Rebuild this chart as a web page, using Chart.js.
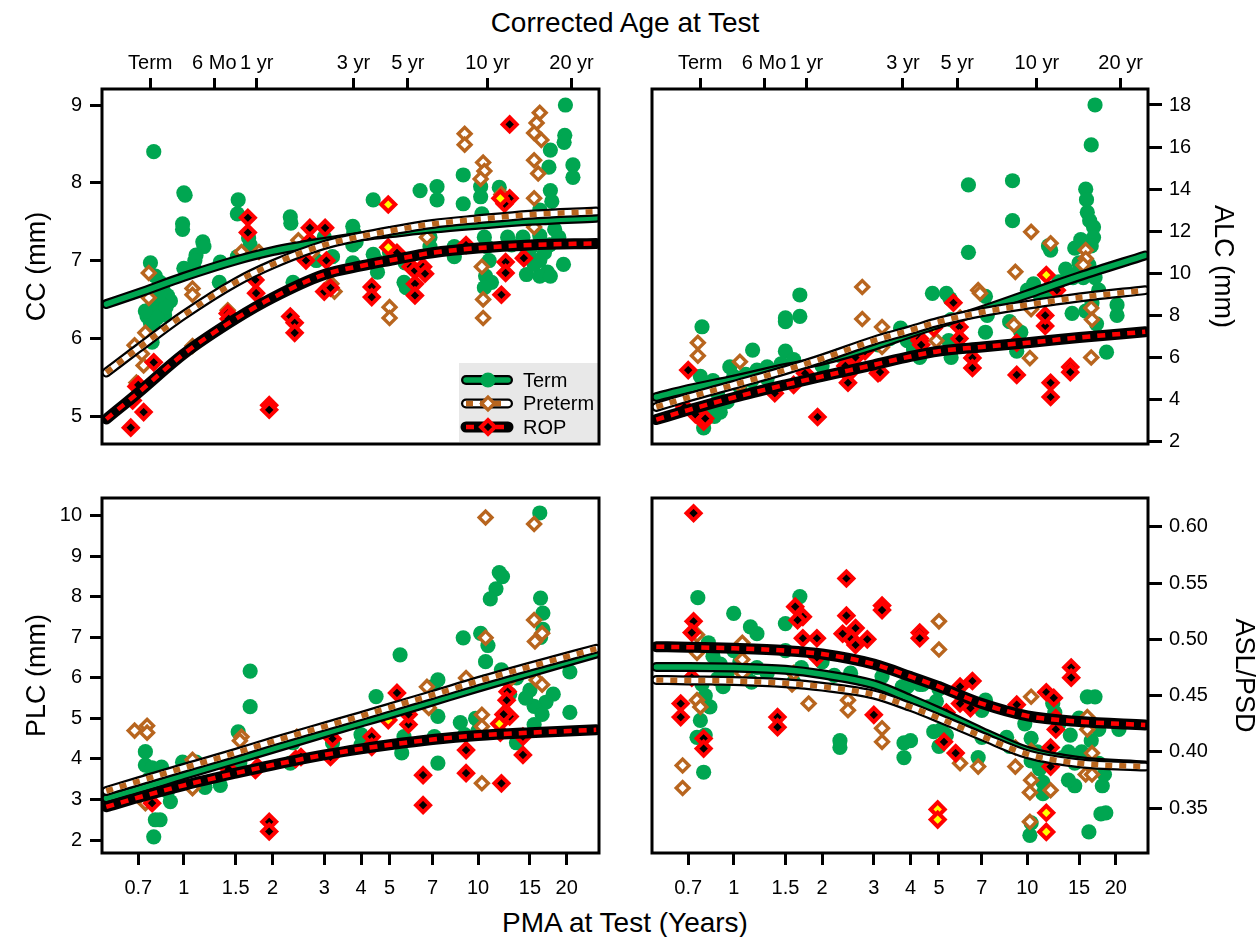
<!DOCTYPE html>
<html>
<head>
<meta charset="utf-8">
<title>Anterior segment growth by PMA</title>
<script src="https://cdn.jsdelivr.net/npm/chart.js@4.4.1/dist/chart.umd.min.js"></script>
<style>
  html, body { margin: 0; padding: 0; background: #fff; }
  body { position: relative; width: 1260px; height: 937px; overflow: hidden;
         font-family: "Liberation Sans", Arial, Helvetica, sans-serif; color: #000; }
  canvas { position: absolute; }
  .big { position: absolute; text-align: center; white-space: nowrap; }
</style>
</head>
<body>
<div class="big" style="left:0; width:1250px; top:9px; font-size:28px; line-height:28px;">Corrected Age at Test</div>
<div class="big" style="left:0; width:1250px; top:909px; font-size:28px; line-height:28px;">PMA at Test (Years)</div>
<canvas id="cc" width="630" height="470" style="left:0; top:0;"></canvas>
<canvas id="alc" width="630" height="470" style="left:630px; top:0;"></canvas>
<canvas id="plc" width="630" height="467" style="left:0; top:470px;"></canvas>
<canvas id="asl" width="630" height="467" style="left:630px; top:470px;"></canvas>
<script>
// ---- axes ----
const pmaTicks = [0.7, 1, 1.5, 2, 3, 4, 5, 7, 10, 15, 20];
const pmaLabels = ["0.7", "1", "1.5", "2", "3", "4", "5", "7", "10", "15", "20"];
// corrected age ticks, placed at PMA = age + 40 weeks
const ageTicks = [0.769, 1.269, 1.769, 3.769, 5.769, 10.769, 20.769];
const ageLabels = ["Term", "6 Mo", "1 yr", "3 yr", "5 yr", "10 yr", "20 yr"];
const X_MIN = 0.527;
const X_MAX = 25.75;

const ccTicks = [5, 6, 7, 8, 9];
const alcTicks = [2, 4, 6, 8, 10, 12, 14, 16, 18];
const plcTicks = [2, 3, 4, 5, 6, 7, 8, 9, 10];
const aslTicks = [0.35, 0.40, 0.45, 0.50, 0.55, 0.60];

// ---- fitted curves, read at these PMA values ----
const curveX = [0.545, 0.7, 1, 1.5, 2, 3, 4, 5, 7, 10, 15, 25.2];

const ccTermFit    = [6.44, 6.58, 6.79, 7.00, 7.12, 7.24, 7.31, 7.35, 7.41, 7.46, 7.51, 7.55];
const ccPretermFit = [5.56, 5.87, 6.30, 6.72, 6.95, 7.20, 7.31, 7.38, 7.47, 7.53, 7.59, 7.63];
const ccRopFit     = [4.96, 5.30, 5.80, 6.25, 6.52, 6.82, 6.93, 7.00, 7.10, 7.16, 7.20, 7.22];

const alcTermFit    = [4.12, 4.50, 4.95, 5.50, 5.85, 6.55, 7.15, 7.60, 8.25, 9.00, 9.85, 10.85];
const alcPretermFit = [3.65, 4.10, 4.70, 5.40, 5.95, 6.80, 7.30, 7.70, 8.15, 8.50, 8.85, 9.20];
const alcRopFit     = [3.05, 3.50, 4.10, 4.70, 5.10, 5.65, 6.05, 6.30, 6.50, 6.70, 6.95, 7.22];

const plcTermFit    = [3.03, 3.25, 3.60, 3.98, 4.25, 4.63, 4.90, 5.10, 5.42, 5.76, 6.13, 6.60];
const plcPretermFit = [3.21, 3.45, 3.78, 4.15, 4.43, 4.80, 5.06, 5.27, 5.58, 5.92, 6.28, 6.72];
const plcRopFit     = [2.82, 3.05, 3.35, 3.65, 3.85, 4.10, 4.25, 4.35, 4.48, 4.58, 4.65, 4.72];

const aslTermFit    = [0.4755, 0.4755, 0.475, 0.473, 0.469, 0.460, 0.447, 0.436, 0.418, 0.401, 0.392, 0.388];
const aslPretermFit = [0.464, 0.4635, 0.463, 0.461, 0.458, 0.451, 0.440, 0.430, 0.414, 0.398, 0.390, 0.387];
const aslRopFit     = [0.4935, 0.493, 0.492, 0.490, 0.487, 0.478, 0.467, 0.458, 0.443, 0.432, 0.427, 0.424];

// ---- measurements [PMA years, value] ----
const ccTerm = [
  [0.79, 8.40], [0.77, 6.97], [0.80, 6.80], [0.83, 6.72], [0.85, 6.62], [0.88, 6.55], [0.90, 6.48],
  [0.83, 6.45], [0.78, 6.40], [0.80, 6.33], [0.86, 6.30], [0.75, 6.28], [0.77, 6.20], [0.79, 6.12],
  [0.76, 6.05], [0.78, 5.95], [0.87, 6.40], [0.81, 6.26], [0.82, 6.55], [0.74, 6.35],
  [1.00, 7.87], [1.01, 7.84], [0.99, 7.47], [0.99, 7.40], [1.16, 7.24], [1.17, 7.18], [1.10, 7.07],
  [1.09, 7.00], [1.33, 6.98], [1.32, 6.72], [1.00, 6.90], [1.08, 6.92],
  [1.53, 7.78], [1.52, 7.60], [1.66, 7.29], [1.68, 7.20], [1.71, 7.12], [1.52, 7.05],
  [2.30, 7.56], [2.31, 7.48], [2.35, 6.72], [3.00, 7.30], [3.20, 7.05], [2.82, 7.00],
  [3.75, 7.44], [3.78, 7.36], [3.75, 7.20], [3.75, 6.97], [4.40, 7.78], [4.40, 7.08],
  [3.85, 7.24], [4.50, 7.00], [4.55, 6.85],
  [5.00, 7.10], [5.65, 6.97], [5.60, 6.72], [5.70, 6.65], [6.35, 7.90], [6.86, 7.30], [6.86, 7.18],
  [7.25, 7.95], [7.25, 7.78],
  [8.30, 7.18], [8.30, 7.05], [8.90, 8.10], [8.90, 7.73], [10.2, 7.95], [10.2, 7.82], [10.3, 7.60],
  [10.3, 7.55], [10.5, 7.30], [10.7, 7.18], [10.9, 7.00], [10.6, 6.80], [11.1, 6.72], [10.5, 6.65],
  [11.8, 7.94], [12.6, 7.30], [13.0, 7.20],
  [19.8, 9.00], [19.7, 8.61], [19.6, 8.52], [17.6, 8.42], [21.0, 8.23], [21.0, 8.07], [17.4, 8.20],
  [17.6, 7.90], [17.8, 7.76], [16.2, 7.65], [17.0, 7.55], [18.2, 7.40], [16.2, 7.32], [17.5, 7.20],
  [16.2, 7.00], [17.2, 6.85], [14.6, 6.82], [16.2, 6.80], [17.6, 6.80], [14.2, 7.30], [15.0, 7.15],
  [15.8, 7.00], [16.8, 7.10], [15.5, 6.95], [14.5, 7.05], [18.8, 7.30], [19.5, 6.95]
];
const ccPreterm = [
  [0.76, 6.84], [0.76, 6.52], [0.74, 6.07], [0.68, 5.91], [0.72, 5.80], [0.73, 5.65], [0.69, 5.43],
  [1.07, 6.64], [1.07, 6.56], [1.07, 5.90], [1.57, 7.11], [1.80, 7.11], [2.45, 7.26], [1.41, 6.36],
  [2.72, 7.10], [3.17, 6.70], [3.25, 6.60], [9.0, 8.63], [9.0, 8.49], [10.4, 8.26], [10.5, 8.15],
  [10.2, 8.05], [16.2, 8.90], [15.8, 8.77], [15.5, 8.64], [16.4, 8.55], [15.5, 8.29], [16.0, 8.12],
  [15.5, 7.80], [15.5, 7.43], [6.7, 7.30], [5.0, 6.40], [5.0, 6.26], [10.3, 6.92], [10.4, 6.50],
  [10.4, 6.26], [12.0, 7.85]
];
const ccRop = [
  [0.66, 4.85], [0.73, 5.05], [0.67, 5.20], [0.69, 5.38], [0.79, 5.69], [0.70, 5.40],
  [1.41, 6.32], [1.42, 6.25], [1.65, 7.55], [1.65, 7.36], [1.75, 6.75], [1.76, 6.58],
  [1.95, 5.14], [1.95, 5.08], [2.30, 6.28], [2.38, 6.20], [2.38, 6.07], [2.68, 7.42], [2.68, 7.25],
  [2.60, 7.00], [3.02, 7.42], [3.05, 7.00], [3.00, 6.60], [3.15, 6.65], [4.35, 6.66], [4.35, 6.53],
  [12.8, 8.75], [12.8, 7.80], [12.3, 7.73], [5.3, 7.10], [5.9, 6.92], [6.1, 6.87], [6.1, 6.70],
  [6.5, 6.92], [6.6, 6.83], [6.1, 6.55], [9.1, 7.20], [12.4, 6.98], [12.4, 6.84], [14.3, 7.03],
  [12.0, 6.56]
];
const ccRopYellow = [[4.95, 7.72], [4.95, 7.17], [11.9, 7.80]];

const alcTerm = [
  [0.78, 7.46], [0.77, 5.10], [0.79, 2.65], [0.90, 3.40], [0.97, 5.55], [1.16, 6.35], [1.30, 5.55],
  [1.50, 7.88], [1.50, 7.70], [1.68, 7.95], [1.68, 8.97], [1.50, 6.30], [3.90, 6.80], [4.75, 9.05],
  [5.30, 9.05], [0.72, 4.30], [0.80, 4.60], [0.85, 4.90], [0.88, 4.30], [0.92, 4.70], [0.95, 3.90],
  [1.00, 5.10], [1.05, 4.60], [1.10, 5.20], [1.15, 4.90], [1.20, 5.40], [0.82, 3.60], [0.86, 3.20],
  [1.30, 5.00], [1.45, 5.70], [1.60, 5.90], [2.00, 5.60], [2.30, 6.10], [2.70, 6.30], [3.10, 6.60],
  [3.40, 6.90], [3.70, 7.40], [4.10, 6.40],
  [17.0, 18.0], [16.5, 16.1], [6.3, 14.2], [8.9, 14.4], [8.9, 12.5], [6.3, 11.0], [15.8, 14.0],
  [15.9, 13.5], [16.0, 12.9], [16.3, 12.5], [16.8, 12.2], [16.8, 11.7], [16.5, 11.3], [14.5, 11.2],
  [15.0, 10.5], [14.3, 9.8], [15.5, 9.8], [17.0, 9.8], [17.5, 9.2], [16.6, 8.6], [15.8, 8.2],
  [17.2, 7.6], [20.2, 8.5], [20.2, 8.0], [18.6, 6.25], [10.5, 9.5], [10.0, 9.2], [11.0, 9.0],
  [11.6, 8.8], [12.0, 11.1], [11.8, 11.3], [14.2, 8.1], [7.2, 8.9], [7.3, 8.0], [7.2, 7.2],
  [5.45, 8.8], [5.5, 7.8], [5.4, 6.8], [5.5, 6.0], [8.7, 7.7], [9.5, 7.2], [9.2, 6.3], [4.3, 6.0],
  [4.1, 6.4], [13.5, 10.2], [12.8, 9.6], [14.8, 10.0], [16.2, 10.4], [15.2, 11.6]
];
const alcPreterm = [
  [0.755, 6.70], [0.755, 6.08], [1.05, 5.80], [2.74, 9.35], [2.74, 7.83], [3.2, 7.45], [3.2, 6.50],
  [1.05, 4.70], [10.3, 11.97], [12.0, 11.43], [9.1, 10.07], [6.8, 9.2], [6.9, 9.05], [15.8, 11.1],
  [15.8, 10.7], [15.5, 10.4], [16.5, 8.35], [16.6, 7.8], [16.5, 6.0], [9.0, 7.55], [10.2, 5.97],
  [10.3, 8.3], [4.9, 6.8], [5.9, 7.9]
];
const alcRop = [
  [0.70, 5.40], [0.79, 2.95], [1.93, 3.17], [1.38, 4.30], [1.60, 4.70], [1.75, 5.25], [2.45, 5.20],
  [2.45, 4.80], [2.40, 5.60], [2.60, 6.00], [2.80, 6.30], [3.10, 5.25], [3.15, 5.30], [4.3, 6.8],
  [5.6, 8.6], [5.87, 7.45], [5.87, 6.9], [4.3, 6.9], [4.35, 6.6], [6.5, 5.98], [6.5, 5.5],
  [9.2, 5.17], [12.0, 4.8], [12.0, 4.12], [14.0, 5.55], [14.0, 5.3], [12.6, 9.2], [11.5, 7.5],
  [11.5, 8.0], [9.2, 6.7], [0.68, 3.65], [0.74, 3.30], [0.80, 3.10]
];
const alcRopYellow = [[4.8, 7.4], [11.6, 9.92]];

const plcTerm = [
  [1.68, 6.17], [1.68, 5.29], [1.53, 4.67], [0.74, 4.18], [0.74, 3.85], [0.78, 3.78], [0.84, 3.80],
  [0.84, 3.55], [0.90, 2.95], [0.80, 2.50], [0.83, 2.50], [0.79, 2.08], [0.99, 3.92], [1.10, 3.92],
  [1.18, 3.30], [1.33, 3.35], [1.55, 3.90], [2.30, 3.90], [2.35, 4.40], [4.50, 5.54], [4.0, 4.60],
  [4.0, 4.35], [3.2, 4.40], [0.76, 3.50], [0.88, 3.20], [0.95, 3.60],
  [16.2, 10.07], [11.8, 8.60], [12.1, 8.50], [11.5, 8.20], [11.0, 7.95], [16.3, 7.97], [16.6, 7.60],
  [16.6, 7.20], [16.3, 7.00], [8.9, 6.99], [5.43, 6.57], [10.2, 7.10], [10.8, 6.80], [10.6, 6.40],
  [10.5, 5.90], [12.0, 6.20], [20.5, 6.15], [20.5, 5.15], [18.0, 5.60], [17.0, 5.40], [15.5, 5.30],
  [15.0, 5.70], [14.5, 5.50], [16.5, 5.10], [7.3, 5.95], [7.0, 5.78], [7.3, 5.05], [7.3, 3.90],
  [7.1, 4.55], [5.5, 4.15], [5.6, 4.55], [8.7, 4.90], [9.0, 4.60], [9.8, 5.00], [10.0, 4.70],
  [13.5, 4.40], [15.5, 4.85], [12.8, 5.60], [13.5, 6.00]
];
const plcPreterm = [
  [0.68, 4.70], [0.75, 4.82], [0.75, 4.65], [0.74, 2.91], [1.07, 3.98], [1.07, 3.28], [1.57, 4.55],
  [1.55, 4.45], [2.42, 4.55], [10.6, 9.96], [15.5, 9.80], [10.6, 6.99], [15.5, 7.43], [16.5, 7.10],
  [15.6, 6.90], [15.8, 5.95], [16.5, 5.83], [9.1, 6.00], [12.6, 5.90], [6.7, 5.78], [6.8, 5.26],
  [10.3, 5.09], [10.3, 4.80], [10.3, 3.40]
];
const plcRop = [
  [0.78, 2.91], [1.95, 2.45], [1.95, 2.21], [1.75, 3.73], [1.78, 3.80], [1.42, 3.75], [2.4, 4.00],
  [2.5, 4.05], [3.15, 4.05], [3.2, 4.50], [4.35, 4.35], [5.3, 5.63], [5.8, 4.85], [5.8, 5.10],
  [4.35, 4.55], [4.35, 4.30], [6.5, 3.60], [6.5, 2.86], [9.1, 4.22], [9.1, 3.65], [12.0, 3.40],
  [12.6, 5.66], [12.5, 5.45], [12.8, 5.05], [12.2, 5.10], [11.9, 4.65], [14.2, 4.55], [14.2, 4.10]
];
const plcRopYellow = [[4.95, 4.96], [11.8, 4.87]];

const aslTerm = [
  [0.755, 0.537], [1.0, 0.523], [1.14, 0.511], [1.2, 0.505], [1.68, 0.538], [1.5, 0.514], [1.5, 0.490],
  [2.3, 0.410], [2.3, 0.404], [3.8, 0.408], [3.8, 0.395], [0.79, 0.382], [0.75, 0.413], [0.80, 0.415],
  [0.77, 0.428], [0.82, 0.497], [0.85, 0.485], [0.9, 0.478], [0.95, 0.470], [1.0, 0.490], [1.05, 0.480],
  [1.1, 0.470], [1.15, 0.462], [1.2, 0.475], [0.88, 0.465], [0.92, 0.458], [0.78, 0.460], [0.8, 0.450],
  [0.83, 0.440], [1.3, 0.470], [1.6, 0.462], [1.7, 0.475], [2.0, 0.480], [2.2, 0.468], [2.5, 0.470],
  [3.2, 0.467], [3.75, 0.458], [4.4, 0.460], [4.6, 0.440], [4.8, 0.418], [5.0, 0.405],
  [16.2, 0.329], [10.2, 0.326], [10.3, 0.337], [18.5, 0.346], [17.8, 0.345], [16.0, 0.449],
  [17.0, 0.449], [20.5, 0.420], [18.0, 0.370], [18.3, 0.380], [17.5, 0.390], [14.5, 0.370],
  [13.8, 0.375], [14.5, 0.390], [13.2, 0.395], [13.8, 0.400], [15.3, 0.400], [16.5, 0.410],
  [12.2, 0.443], [12.4, 0.435], [12.8, 0.425], [9.8, 0.425], [10.3, 0.412], [10.8, 0.400],
  [10.3, 0.392], [11.0, 0.385], [11.3, 0.373], [11.3, 0.363], [7.2, 0.446], [7.0, 0.437],
  [7.0, 0.413], [6.8, 0.395], [8.5, 0.413], [8.7, 0.405], [5.1, 0.420], [5.3, 0.415], [4.0, 0.410],
  [3.9, 0.458], [4.3, 0.460], [4.9, 0.445], [5.0, 0.456], [15.0, 0.430], [16.0, 0.425],
  [17.5, 0.420], [14.0, 0.415]
];
const aslPreterm = [
  [0.67, 0.388], [0.67, 0.368], [0.75, 0.504], [0.75, 0.488], [0.75, 0.446], [0.77, 0.440],
  [1.07, 0.497], [1.07, 0.482], [1.07, 0.470], [1.6, 0.470], [1.58, 0.460], [1.8, 0.443],
  [2.45, 0.446], [2.45, 0.437], [3.2, 0.421], [3.2, 0.409], [5.0, 0.516], [5.0, 0.491],
  [5.9, 0.390], [6.8, 0.387], [9.1, 0.404], [9.1, 0.387], [10.3, 0.449], [10.3, 0.401],
  [10.3, 0.375], [10.2, 0.364], [10.2, 0.338], [12.0, 0.366], [16.0, 0.431], [16.0, 0.420],
  [16.6, 0.399], [15.8, 0.380], [16.6, 0.380]
];
const aslRop = [
  [0.73, 0.612], [0.73, 0.516], [0.72, 0.506], [0.72, 0.466], [0.66, 0.443], [0.66, 0.431],
  [0.79, 0.412], [0.79, 0.403], [1.41, 0.431], [1.41, 0.422], [1.62, 0.529], [1.72, 0.520],
  [1.65, 0.517], [1.72, 0.501], [1.92, 0.501], [1.92, 0.484], [2.42, 0.554], [2.42, 0.521],
  [2.6, 0.510], [2.85, 0.500], [2.5, 0.501], [2.35, 0.505], [2.6, 0.495], [3.2, 0.530],
  [3.2, 0.526], [3.0, 0.433], [4.3, 0.506], [4.3, 0.501], [5.9, 0.458], [6.5, 0.463],
  [5.9, 0.443], [6.4, 0.439], [5.3, 0.435], [5.2, 0.409], [5.7, 0.399], [9.2, 0.442],
  [11.6, 0.453], [12.3, 0.448], [12.5, 0.430], [12.5, 0.420], [12.0, 0.404], [12.0, 0.387],
  [14.1, 0.475], [14.1, 0.466]
];
const aslRopYellow = [[4.95, 0.349], [4.95, 0.340], [11.6, 0.346], [11.6, 0.329]];

// ---- styles ----
const GREEN = "#00a651";
const BROWN = "#b8651e";
const RED = "#ff0000";
const YELLOW = "#ffff00";

const fitLayers = {
  term: [{ color: "#000", width: 10 }, { color: GREEN, width: 5.5 }],
  preterm: [{ color: "#000", width: 10 }, { color: "#fff", width: 5.5 }, { color: BROWN, width: 5.5, dash: [7, 7] }],
  rop: [{ color: "#000", width: 11 }, { color: RED, width: 4.5, dash: [8, 7] }]
};

const markers = {
  term: { pointStyle: "circle", pointRadius: 7.6, pointBackgroundColor: GREEN, pointBorderColor: GREEN, pointBorderWidth: 0 },
  preterm: { pointStyle: "rectRot", pointRadius: 6.4, pointBackgroundColor: "#fff", pointBorderColor: BROWN, pointBorderWidth: 3.4 },
  rop: { pointStyle: "rectRot", pointRadius: 7, pointBackgroundColor: "#000", pointBorderColor: RED, pointBorderWidth: 4 },
  ropYellow: { pointStyle: "rectRot", pointRadius: 7, pointBackgroundColor: YELLOW, pointBorderColor: RED, pointBorderWidth: 4 }
};

Chart.defaults.font.family = '"Liberation Sans", Arial, Helvetica, sans-serif';
Chart.defaults.color = "#000";

function toPoints(arr) {
  return arr.map(([x, y]) => ({ x, y }));
}

function buildDatasets(term, preterm, rop, ropYellow, termFit, pretermFit, ropFit) {
  const sets = [
    { data: toPoints(term), ...markers.term },
    { data: toPoints(preterm), ...markers.preterm },
    { data: toPoints(rop), ...markers.rop },
    { data: toPoints(ropYellow), ...markers.ropYellow }
  ];
  [[termFit, fitLayers.term], [pretermFit, fitLayers.preterm], [ropFit, fitLayers.rop]].forEach(([ys, layers]) => {
    layers.forEach(l => {
      sets.push({
        data: curveX.map((x, i) => ({ x, y: ys[i] })),
        showLine: true,
        pointRadius: 0,
        borderColor: l.color,
        borderWidth: l.width,
        borderDash: l.dash || [],
        borderCapStyle: l.dash ? "butt" : "round",
        borderJoinStyle: "round",
        cubicInterpolationMode: "monotone",
        fill: false
      });
    });
  });
  // first entry is drawn first (lowest), curves end up on top
  return sets.map((d, i) => ({ ...d, order: sets.length - i }));
}

function xAxis(top) {
  const ticks = top ? ageTicks : pmaTicks;
  const labels = top ? ageLabels : pmaLabels;
  return {
    type: "logarithmic",
    position: top ? "top" : "bottom",
    min: X_MIN,
    max: X_MAX,
    bounds: "data",
    afterBuildTicks: s => { s.ticks = ticks.map(v => ({ value: v })); },
    afterFit: s => { s.height = top ? 89 : 84; },
    border: { display: false },
    grid: { drawOnChartArea: false, drawTicks: true, tickLength: top ? 11 : 12, tickWidth: 3, tickColor: "#000" },
    ticks: {
      autoSkip: false, maxRotation: 0, minRotation: 0,
      padding: top ? 3 : 11, color: "#000", font: { size: 20 },
      callback: (v, i) => labels[i]
    }
  };
}

function yAxis(side, min, max, ticks, digits, title, titlePad) {
  const left = side === "left";
  return {
    type: "linear",
    position: side,
    min,
    max,
    bounds: "data",
    afterBuildTicks: s => { s.ticks = ticks.map(v => ({ value: v })); },
    afterFit: s => { s.width = left ? 102 : 112; },
    border: { display: false },
    grid: { drawOnChartArea: false, drawTicks: true, tickLength: left ? 12 : 14, tickWidth: 3, tickColor: "#000" },
    ticks: { padding: left ? 8 : 7, color: "#000", font: { size: 20 }, callback: v => Number(v).toFixed(digits) },
    title: { display: true, text: title, color: "#000", font: { size: 27 }, padding: { top: titlePad, bottom: 0 } }
  };
}

// box round every panel
const frame = {
  id: "frame",
  afterDatasetsDraw(chart) {
    const { ctx, chartArea: a } = chart;
    ctx.save();
    ctx.strokeStyle = "#000";
    ctx.lineWidth = 3;
    ctx.strokeRect(a.left, a.top, a.right - a.left, a.bottom - a.top);
    ctx.restore();
  }
};

// grey key in the CC panel
const legendBox = {
  id: "legendBox",
  afterDatasetsDraw(chart) {
    const { ctx, chartArea: a } = chart;
    const x0 = a.right - 140;
    const y0 = a.bottom - 81;
    const entries = [
      ["Term", fitLayers.term, markers.term],
      ["Preterm", fitLayers.preterm, markers.preterm],
      ["ROP", fitLayers.rop, markers.rop]
    ];
    ctx.save();
    ctx.fillStyle = "#e8e8e8";
    ctx.fillRect(x0, y0, 139, 79);
    entries.forEach(([name, layers, m], i) => {
      const y = y0 + 17 + i * 23.5;
      layers.forEach(l => {
        ctx.beginPath();
        ctx.setLineDash(l.dash || []);
        ctx.lineCap = l.dash ? "butt" : "round";
        ctx.strokeStyle = l.color;
        ctx.lineWidth = l.width;
        ctx.moveTo(x0 + 7, y);
        ctx.lineTo(x0 + 49, y);
        ctx.stroke();
      });
      ctx.setLineDash([]);
      ctx.fillStyle = m.pointBackgroundColor;
      ctx.strokeStyle = m.pointBorderColor;
      ctx.lineWidth = m.pointBorderWidth;
      Chart.helpers.drawPoint(ctx, {
        pointStyle: m.pointStyle, radius: m.pointRadius, borderWidth: m.pointBorderWidth, rotation: 0
      }, x0 + 29, y);
      ctx.fillStyle = "#000";
      ctx.font = '20px "Liberation Sans", Arial, sans-serif';
      ctx.textAlign = "left";
      ctx.textBaseline = "middle";
      ctx.fillText(name, x0 + 64, y + 1);
    });
    ctx.restore();
  }
};

function makePanel(id, datasets, xTop, yCfg, padding, extraPlugins) {
  return new Chart(document.getElementById(id), {
    type: "scatter",
    data: { datasets },
    options: {
      responsive: false,
      animation: false,
      events: [],
      layout: { autoPadding: false, padding },
      plugins: { legend: { display: false }, tooltip: { enabled: false } },
      scales: { x: xAxis(xTop), y: yCfg }
    },
    plugins: [...extraPlugins, frame]
  });
}

makePanel("cc",
  buildDatasets(ccTerm, ccPreterm, ccRop, ccRopYellow, ccTermFit, ccPretermFit, ccRopFit),
  true, yAxis("left", 4.64, 9.206, ccTicks, 0, "CC (mm)", 21),
  { left: 0, top: 0, right: 31, bottom: 26 }, [legendBox]);

makePanel("alc",
  buildDatasets(alcTerm, alcPreterm, alcRop, alcRopYellow, alcTermFit, alcPretermFit, alcRopFit),
  true, yAxis("right", 1.888, 18.76, alcTicks, 0, "ALC (mm)", 21),
  { left: 22, top: 0, right: 0, bottom: 26 }, []);

makePanel("plc",
  buildDatasets(plcTerm, plcPreterm, plcRop, plcRopYellow, plcTermFit, plcPretermFit, plcRopFit),
  false, yAxis("left", 1.68, 10.44, plcTicks, 0, "PLC (mm)", 21),
  { left: 0, top: 28, right: 31, bottom: 0 }, []);

makePanel("asl",
  buildDatasets(aslTerm, aslPreterm, aslRop, aslRopYellow, aslTermFit, aslPretermFit, aslRopFit),
  false, yAxis("right", 0.3103, 0.6255, aslTicks, 2, "ASL/PSD", 0),
  { left: 22, top: 28, right: 0, bottom: 0 }, []);
</script>
</body>
</html>
